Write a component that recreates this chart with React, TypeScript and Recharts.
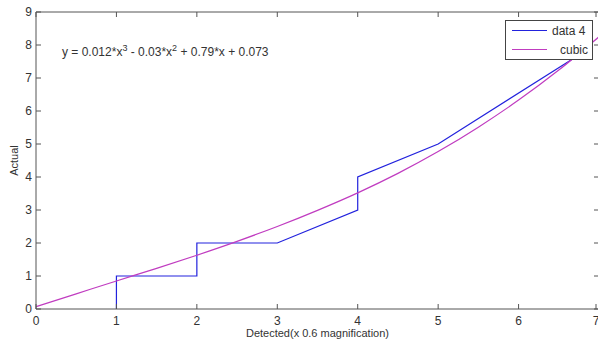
import React from 'react';
import { LineChart, Line, XAxis, YAxis } from 'recharts';

// measured step data ("data 4")
const dataX = [1, 1, 2, 2, 3, 4, 4, 5, 6.75];
const dataY = [0, 1, 1, 2, 2, 3, 4, 5, 7.7];

// cubic fit curve
const cubicX = [0, 0.5, 1, 1.5, 2, 2.5, 3, 3.5, 4, 4.5, 5, 5.5, 6, 6.5, 7];
const cubicY = [0.07, 0.46, 0.85, 1.23, 1.63, 2.05, 2.5, 2.99, 3.52, 4.11, 4.77, 5.51, 6.33, 7.24, 8.25];

const xTicks = [0, 1, 2, 3, 4, 5, 6, 7];
const yTicks = [0, 1, 2, 3, 4, 5, 6, 7, 8, 9];

const seriesNames = ['data 4', 'cubic'];
const seriesColors = ['#2222dd', '#c03cc0'];

const AXIS = '#555555';
const TEXT = '#333333';
const FONT = '"Liberation Sans", Arial, sans-serif';

const stepData = dataX.map((x, i) => ({ x, y: dataY[i] }));
const cubicData = cubicX.map((x, i) => ({ x, y: cubicY[i] }));

const BottomTick = (props: any) => {
  const { x, y, payload } = props;
  return (
    <g>
      <line x1={x} y1={y} x2={x} y2={y - 5} stroke={AXIS} />
      <text x={x} y={y + 16} textAnchor="middle" fontSize={12} fill={TEXT} fontFamily={FONT}>
        {payload.value}
      </text>
    </g>
  );
};

const LeftTick = (props: any) => {
  const { x, y, payload } = props;
  return (
    <g>
      <line x1={x} y1={y} x2={x + 5} y2={y} stroke={AXIS} />
      <text x={x - 4} y={y + 4} textAnchor="end" fontSize={12} fill={TEXT} fontFamily={FONT}>
        {payload.value}
      </text>
    </g>
  );
};

const TopTick = (props: any) => (
  <line x1={props.x} y1={props.y} x2={props.x} y2={props.y + 5} stroke={AXIS} />
);

const RightTick = (props: any) => (
  <line x1={props.x} y1={props.y} x2={props.x - 5} y2={props.y} stroke={AXIS} />
);

const LegendBox = () => (
  <div style={styles.legend}>
    {seriesNames.map((name, i) => (
      <div key={name} style={styles.legendRow}>
        <span style={{ ...styles.legendLine, background: seriesColors[i] }} />
        <span style={{ flex: 1, textAlign: i === 1 ? 'right' : 'left' }}>{name}</span>
      </div>
    ))}
  </div>
);

export default function App() {
  return (
    <div style={styles.page}>
      <LineChart width={600} height={344} margin={{ top: 11, right: 0, bottom: 0, left: 0 }}>
        <XAxis
          xAxisId="b"
          dataKey="x"
          type="number"
          domain={[0, 7]}
          ticks={xTicks}
          orientation="bottom"
          height={35}
          stroke={AXIS}
          tickLine={false}
          tickSize={0}
          tickMargin={0}
          tick={<BottomTick />}
          allowDataOverflow
          label={{ value: 'Detected(x 0.6 magnification)', position: 'insideBottom', offset: 7, fontSize: 11, fill: TEXT, fontFamily: FONT }}
        />
        <XAxis
          xAxisId="t"
          dataKey="x"
          type="number"
          domain={[0, 7]}
          ticks={xTicks}
          orientation="top"
          height={1}
          stroke={AXIS}
          tickLine={false}
          tickSize={0}
          tickMargin={0}
          tick={<TopTick />}
          allowDataOverflow
        />
        <YAxis
          yAxisId="l"
          type="number"
          domain={[0, 9]}
          ticks={yTicks}
          width={36}
          stroke={AXIS}
          tickLine={false}
          tickSize={0}
          tickMargin={0}
          tick={<LeftTick />}
          allowDataOverflow
          label={{ value: 'Actual', angle: -90, position: 'insideLeft', offset: 14, fontSize: 11, fill: TEXT, fontFamily: FONT, style: { textAnchor: 'middle' } }}
        />
        <YAxis
          yAxisId="r"
          type="number"
          domain={[0, 9]}
          ticks={yTicks}
          orientation="right"
          width={1}
          stroke={AXIS}
          tickLine={false}
          tickSize={0}
          tickMargin={0}
          tick={<RightTick />}
          allowDataOverflow
        />
        <Line
          xAxisId="b"
          yAxisId="l"
          data={stepData}
          dataKey="y"
          type="linear"
          stroke={seriesColors[0]}
          strokeWidth={1.2}
          dot={false}
          name={seriesNames[0]}
          isAnimationActive={false}
        />
        <Line
          xAxisId="b"
          yAxisId="l"
          data={cubicData}
          dataKey="y"
          type="monotone"
          stroke={seriesColors[1]}
          strokeWidth={1.2}
          dot={false}
          name={seriesNames[1]}
          isAnimationActive={false}
        />
      </LineChart>
      <LegendBox />
      <div style={styles.equation}>
        y = 0.012*x<sup style={styles.sup}>3</sup> - 0.03*x<sup style={styles.sup}>2</sup> + 0.79*x + 0.073
      </div>
    </div>
  );
}

const styles = {
  page: {
    position: 'absolute',
    left: 0,
    top: 0,
    width: 598,
    height: 344,
    overflow: 'hidden',
    background: '#ffffff',
    fontFamily: FONT,
  } as React.CSSProperties,
  legend: {
    position: 'absolute',
    left: 505,
    top: 20,
    width: 76,
    height: 38,
    border: '1px solid #444',
    background: '#ffffff',
    boxSizing: 'content-box',
    fontSize: 12,
    color: TEXT,
    fontFamily: FONT,
    padding: '0px 4px 0px 6px',
    display: 'flex',
    flexDirection: 'column',
    justifyContent: 'space-around',
  } as React.CSSProperties,
  legendRow: {
    display: 'flex',
    alignItems: 'center',
    height: 17,
  } as React.CSSProperties,
  legendLine: {
    display: 'inline-block',
    width: 35,
    height: 1,
    marginRight: 5,
  } as React.CSSProperties,
  equation: {
    position: 'absolute',
    left: 62,
    top: 45,
    fontSize: 12,
    color: TEXT,
    whiteSpace: 'nowrap',
  } as React.CSSProperties,
  sup: {
    fontSize: 9,
    verticalAlign: 5,
    lineHeight: 0,
  } as React.CSSProperties,
};
